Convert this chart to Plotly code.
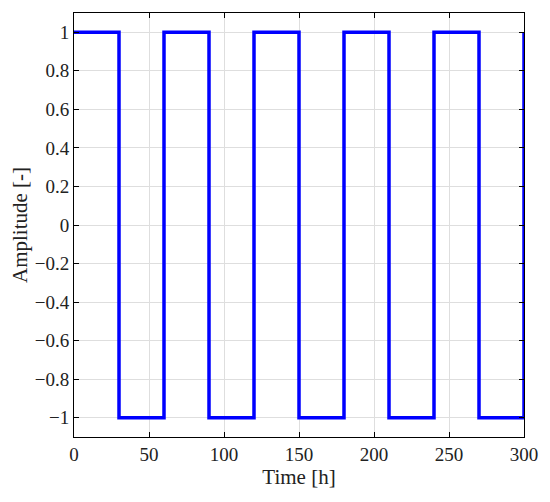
import plotly.graph_objects as go

# Switching times [h] and amplitude levels (step held until next time)
time_h = [0, 30, 60, 90, 120, 150, 180, 210, 240, 270, 300]
amplitude = [1, -1, 1, -1, 1, -1, 1, -1, 1, -1, 1]

x_ticks = [0, 50, 100, 150, 200, 250, 300]
y_ticks = [-1, -0.8, -0.6, -0.4, -0.2, 0, 0.2, 0.4, 0.6, 0.8, 1]

font_family = "Liberation Serif, DejaVu Serif, serif"

fig = go.Figure()
fig.add_trace(go.Scatter(
    x=time_h, y=amplitude, mode="lines", line_shape="hv",
    line=dict(color="#0000ff", width=3.5), showlegend=False, cliponaxis=False,
))

axis_common = dict(
    showline=True, linecolor="black", linewidth=1, mirror="ticks",
    ticks="inside", ticklen=5, tickcolor="black", tickwidth=1,
    showgrid=True, gridcolor="#dedede", gridwidth=1,
    zeroline=False,
    tickfont=dict(family=font_family, size=19, color="#222"),
    title_font=dict(family=font_family, size=21, color="#222"),
)

fig.update_xaxes(range=[0, 300], tickvals=x_ticks, title_text="Time [h]",
                 title_standoff=5, **axis_common)
fig.update_yaxes(range=[-1.1, 1.1], tickvals=y_ticks,
                 ticktext=[("\u2212" + f"{abs(v):g}") if v < 0 else f"{v:g}" for v in y_ticks],
                 title_text="Amplitude [-]", title_standoff=3, **axis_common)

# page body adds an 8px offset; size/margins compensate so the plot area
# sits at x 74..527, y 12..437 in the 550x502 window
fig.update_layout(
    width=534, height=486,
    margin=dict(l=66, r=15, t=4, b=57),
    plot_bgcolor="white", paper_bgcolor="white",
)

fig.write_html("out.html")
